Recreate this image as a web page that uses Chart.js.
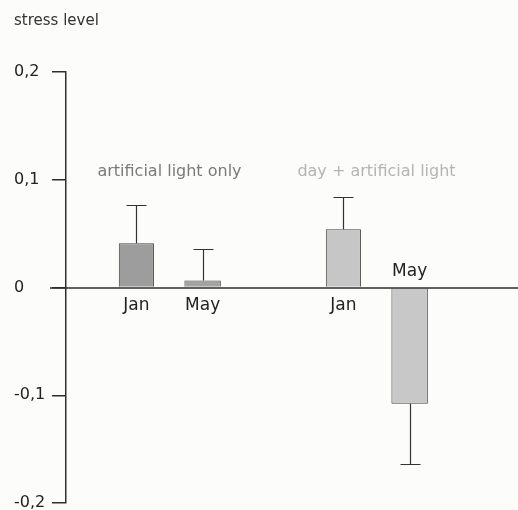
<!DOCTYPE html>
<html>
<head>
<meta charset="utf-8">
<script src="https://cdn.jsdelivr.net/npm/chart.js@4.4.0/dist/chart.umd.min.js"></script>
<style>
  html, body { margin: 0; padding: 0; background: #fcfcfb; }
  #contenedor { width: 518px; height: 510px; }
</style>
</head>
<body>
<div id="contenedor"><canvas id="grafico"></canvas></div>
<script>
// Datos
const grupos = ['artificial light only', 'day + artificial light'];
const meses = ['Jan', 'May'];
const valoresJan = [0.041, 0.054];
const valoresMay = [0.0065, -0.108];
const errorJan = [0.036, 0.030];
const errorMay = [0.029, 0.056];
const ticksY = [-0.2, -0.1, 0, 0.1, 0.2];
const etiquetasY = ['-0,2', '-0,1', '0', '0,1', '0,2'];

const fuente = 'DejaVu Sans';
const colorEjes = '#2e2e2e';

// Línea del cero, barras de error y rótulos
const extras = {
  id: 'extras',
  afterDatasetsDraw(chart) {
    const ctx = chart.ctx;
    const y = chart.scales.y;
    const x = chart.scales.x;
    const cero = Math.round(y.getPixelForValue(0));
    ctx.save();
    ctx.strokeStyle = colorEjes;
    ctx.lineWidth = 1.5;
    ctx.beginPath();
    ctx.moveTo(chart.chartArea.left - 16, cero);
    ctx.lineTo(chart.width, cero);
    ctx.stroke();

    ctx.lineWidth = 1.2;
    chart.data.datasets.forEach((ds, di) => {
      const meta = chart.getDatasetMeta(di);
      meta.data.forEach((barra, i) => {
        const v = ds.data[i];
        const signo = v < 0 ? -1 : 1;
        const fin = Math.round(y.getPixelForValue(v + signo * ds.errores[i])) + 0.5;
        const bx = Math.round(barra.x) + 0.5;
        ctx.strokeStyle = '#333';
        ctx.beginPath();
        ctx.moveTo(bx, barra.y);
        ctx.lineTo(bx, fin);
        ctx.moveTo(bx - 10, fin);
        ctx.lineTo(bx + 10, fin);
        ctx.stroke();

        ctx.fillStyle = '#222';
        ctx.font = '17px "' + fuente + '"';
        ctx.textAlign = 'center';
        ctx.textBaseline = 'middle';
        ctx.fillText(ds.label, barra.x, signo > 0 ? cero + 18 : cero - 16);
      });
    });

    // nombres de los grupos
    ctx.font = '16px "' + fuente + '"';
    ctx.textBaseline = 'middle';
    grupos.forEach((g, i) => {
      ctx.fillStyle = i === 0 ? '#7a7a7a' : '#b4b4b4';
      ctx.fillText(g, x.getPixelForValue(i), y.getPixelForValue(0.107));
    });
    ctx.restore();
  }
};

new Chart(document.getElementById('grafico'), {
  type: 'bar',
  data: {
    labels: grupos,
    datasets: [
      {
        label: meses[0],
        data: valoresJan,
        errores: errorJan,
        backgroundColor: ['#9d9d9d', '#c6c6c6'],
        borderColor: '#444',
        borderWidth: 1,
        categoryPercentage: 0.64,
        barPercentage: 0.53
      },
      {
        label: meses[1],
        data: valoresMay,
        errores: errorMay,
        backgroundColor: ['#a3a3a3', '#c8c8c8'],
        borderColor: '#444',
        borderWidth: 1,
        categoryPercentage: 0.64,
        barPercentage: 0.55
      }
    ]
  },
  options: {
    responsive: true,
    maintainAspectRatio: false,
    animation: false,
    layout: { padding: { left: 14, right: 38, top: 0, bottom: 0 } },
    plugins: {
      legend: { display: false },
      tooltip: { enabled: false },
      title: {
        display: true,
        text: 'stress level',
        align: 'start',
        color: '#333',
        font: { family: fuente, size: 15, weight: 'normal' },
        padding: { top: 12, bottom: 42 }
      }
    },
    scales: {
      x: { display: false },
      y: {
        min: -0.2,
        max: 0.2,
        afterBuildTicks: scale => { scale.ticks = ticksY.map(v => ({ value: v })); },
        afterFit: scale => {
          scale.width = 52;
          scale.paddingTop = 0;
          scale.paddingBottom = 7;
        },
        grid: { drawOnChartArea: false, tickLength: 14, color: colorEjes, lineWidth: 1.5 },
        border: { display: true, color: colorEjes, width: 1.5 },
        ticks: {
          crossAlign: 'far',
          color: '#222',
          font: { family: fuente, size: 16 },
          callback: (v, i) => etiquetasY[i]
        }
      }
    }
  },
  plugins: [extras]
});
</script>
</body>
</html>
